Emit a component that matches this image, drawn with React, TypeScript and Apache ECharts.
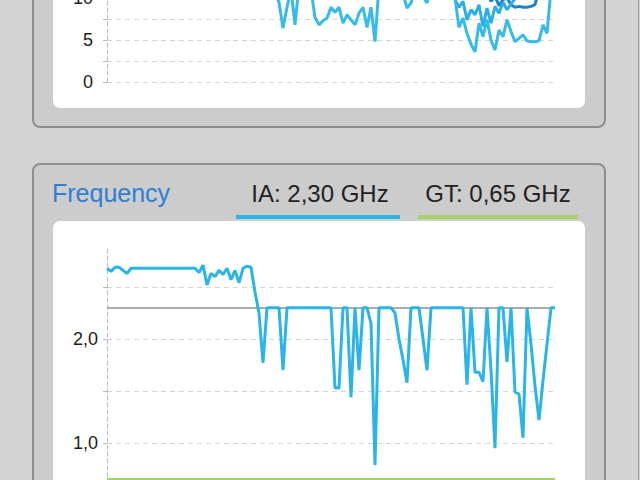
import React, { useEffect, useRef } from "react";
import * as echarts from "echarts";

// ---- data ----
const sampleCount = 113;
const sampleTimes: string[] = Array.from({ length: sampleCount }, (_, i) => String(i));

// top (partially visible) chart, values above ~10 are outside the visible page area
const topLight: number[] = [
  13.2, 13.5, 12.8, 13.9, 14.1, 13.4, 12.9, 13.6, 14.2, 13.8, 13.1, 12.7, 13.5, 14.0, 13.3, 12.9, 13.7, 14.3, 13.6, 13.0,
  12.6, 13.4, 13.9, 14.4, 13.2, 12.8, 13.5, 14.1, 13.7, 12.9, 13.3, 13.8, 14.0, 13.1, 12.7, 13.6, 14.2, 13.4, 12.9, 13.5,
  12.4, 11.8, 10.5, 9.5, 6.4, 8.9, 11.0, 6.8, 11.5, 12.0, 12.3, 11.0, 7.7, 6.8, 7.3, 7.6, 8.9, 8.3, 8.9, 7.0,
  8.0, 7.4, 6.8, 8.2, 8.9, 6.5, 8.9, 4.8, 11.5, 12.2, 12.8, 12.4, 11.9, 12.3, 10.5, 8.8, 9.4, 11.0, 11.5, 10.2,
  9.4, 11.5, 12.1, 12.6, 12.3, 11.8, 12.2, 10.0, 6.5, 7.6, 5.8, 4.5, 3.6, 7.0, 5.4, 7.4, 5.0, 3.8, 6.2, 5.4,
  7.4, 6.0, 4.8, 5.2, 5.6, 4.9, 4.8, 4.8, 4.9, 6.8, 5.8, 11.0, 12.0,
];
const topMid: number[] = [
  15.1, 15.4, 14.8, 15.9, 16.0, 15.3, 14.9, 15.6, 16.2, 15.8, 15.0, 14.7, 15.5, 16.1, 15.2, 14.9, 15.7, 16.3, 15.6, 15.0,
  14.6, 15.4, 15.9, 16.4, 15.2, 14.8, 15.5, 16.1, 15.7, 14.9, 15.3, 15.8, 16.0, 15.1, 14.7, 15.6, 16.2, 15.4, 14.9, 15.5,
  14.4, 13.8, 13.0, 12.5, 11.8, 12.4, 13.1, 12.0, 13.5, 14.0, 14.3, 13.0, 12.2, 11.9, 12.4, 12.6, 13.1, 12.8, 13.0, 12.1,
  12.6, 12.3, 11.9, 12.7, 13.1, 11.8, 12.9, 11.5, 13.5, 14.2, 14.8, 14.4, 13.9, 14.3, 13.2, 12.1, 12.6, 13.0, 13.5, 12.4,
  12.0, 13.5, 14.1, 14.6, 14.3, 13.8, 13.0, 9.8, 8.9, 9.6, 7.4, 8.6, 8.0, 9.2, 6.6, 8.8, 7.0, 9.0, 8.2, 9.5,
  8.6, 9.3, 9.9, 10.5, 11.0, 10.4, 11.0, 11.6, 12.0, 11.4, 11.8, 12.6, 13.0,
];
const topDark: number[] = [
  17.1, 17.4, 16.8, 17.9, 18.0, 17.3, 16.9, 17.6, 18.2, 17.8, 17.0, 16.7, 17.5, 18.1, 17.2, 16.9, 17.7, 18.3, 17.6, 17.0,
  16.6, 17.4, 17.9, 18.4, 17.2, 16.8, 17.5, 18.1, 17.7, 16.9, 17.3, 17.8, 18.0, 17.1, 16.7, 17.6, 18.2, 17.4, 16.9, 17.5,
  16.4, 15.8, 15.0, 14.5, 13.8, 14.4, 15.1, 14.0, 15.5, 16.0, 16.3, 15.0, 14.2, 13.9, 14.4, 14.6, 15.1, 14.8, 15.0, 14.1,
  14.6, 14.3, 13.9, 14.7, 15.1, 13.8, 14.9, 13.5, 15.5, 16.2, 16.8, 16.4, 15.9, 16.3, 15.2, 14.1, 14.6, 15.0, 15.5, 14.4,
  14.0, 15.5, 16.1, 16.6, 16.3, 15.8, 15.0, 12.4, 11.8, 12.2, 11.5, 11.9, 11.2, 11.6, 11.0, 10.8, 9.6, 10.2, 9.1, 9.8,
  10.0, 9.2, 8.9, 9.0, 8.9, 8.9, 9.0, 9.2, 11.0, 11.8, 12.4, 13.0, 13.5,
];

// Frequency chart (GHz)
const iaFrequency: number[] = [
  2.68, 2.65, 2.69, 2.69, 2.66, 2.63, 2.68,
  2.68, 2.68, 2.68, 2.68, 2.68, 2.68, 2.68, 2.68, 2.68, 2.68, 2.68, 2.68, 2.68, 2.68, 2.68,
  2.68, 2.64, 2.71, 2.52, 2.63, 2.60, 2.66, 2.62, 2.68, 2.57, 2.66, 2.54, 2.68, 2.70, 2.69, 2.45, 2.25, 1.77,
  2.30, 2.30, 2.30, 2.30,
  1.70,
  2.30, 2.30, 2.30, 2.30, 2.30, 2.30, 2.30, 2.30, 2.30, 2.30, 2.30, 2.30,
  1.53, 1.53, 2.30, 2.30, 1.44, 2.30, 1.70, 2.30, 2.30, 2.15, 0.79,
  2.30, 2.30, 2.30, 2.30,
  2.25, 2.00, 1.80, 1.58, 2.30, 2.30, 2.30, 2.00, 1.70,
  2.30, 2.30, 2.30, 2.30, 2.30, 2.30, 2.30, 2.30, 2.30,
  1.56, 2.30, 1.68, 1.68, 1.59, 2.30, 1.70, 0.95, 2.30, 2.30, 1.78, 2.30, 1.49, 1.47, 1.05, 2.30, 1.95, 1.55, 1.22, 1.60,
  1.95, 2.30, 2.30,
];
const gtFrequency: number[] = [
  0.65, 0.65, 0.65, 0.65, 0.65, 0.65, 0.65, 0.65, 0.65, 0.65, 0.65, 0.65, 0.65, 0.65, 0.65, 0.65, 0.65, 0.65, 0.65, 0.65,
  0.65, 0.65, 0.65, 0.65, 0.65, 0.65, 0.65, 0.65, 0.65, 0.65, 0.65, 0.65, 0.65, 0.65, 0.65, 0.65, 0.65, 0.65, 0.65, 0.65,
  0.65, 0.65, 0.65, 0.65, 0.65, 0.65, 0.65, 0.65, 0.65, 0.65, 0.65, 0.65, 0.65, 0.65, 0.65, 0.65, 0.65, 0.65, 0.65, 0.65,
  0.65, 0.65, 0.65, 0.65, 0.65, 0.65, 0.65, 0.65, 0.65, 0.65, 0.65, 0.65, 0.65, 0.65, 0.65, 0.65, 0.65, 0.65, 0.65, 0.65,
  0.65, 0.65, 0.65, 0.65, 0.65, 0.65, 0.65, 0.65, 0.65, 0.65, 0.65, 0.65, 0.65, 0.65, 0.65, 0.65, 0.65, 0.65, 0.65, 0.65,
  0.65, 0.65, 0.65, 0.65, 0.65, 0.65, 0.65, 0.65, 0.65, 0.65, 0.65, 0.65, 0.65,
];
const iaBaseFrequency = 2.3;

const panelTitle = "Frequency";
const iaLabel = "IA: 2,30 GHz";
const gtLabel = "GT: 0,65 GHz";

const FONT = "'Liberation Sans', Arial, Helvetica, sans-serif";
const BLUE = "#2bb4e6";
const GREEN = "#a5d167";

function commaFmt(v: number): string {
  return v.toFixed(1).replace(".", ",");
}

export default function App() {
  const ref = useRef<HTMLDivElement>(null);
  useEffect(() => {
    if (!ref.current) return;
    const chart = echarts.init(ref.current, null, { renderer: "svg" });
    const axisLineStyle = { color: "#b9b9b9", type: [4, 3], width: 1 };
    const splitStyle = { color: "#d6d6d6", type: [5, 4], width: 1 };
    const option: any = {
      animation: false,
      backgroundColor: "#d3d3d3",
      graphic: {
        elements: [
          { type: "rect", z: -10, shape: { x: 33, y: -20, width: 572, height: 147, r: 7 }, style: { fill: "#cccccc", stroke: "#8e8e8e", lineWidth: 2 } },
          { type: "rect", z: -9, shape: { x: 53, y: -20, width: 532, height: 128, r: 7 }, style: { fill: "#ffffff" } },
          { type: "rect", z: -10, shape: { x: 33, y: 164, width: 572, height: 400, r: 7 }, style: { fill: "#cccccc", stroke: "#8e8e8e", lineWidth: 2 } },
          { type: "rect", z: -9, shape: { x: 53, y: 221, width: 532, height: 300, r: 7 }, style: { fill: "#ffffff" } },
          { type: "rect", z: -8, shape: { x: 236, y: 215, width: 164, height: 4 }, style: { fill: BLUE } },
          { type: "rect", z: -8, shape: { x: 418, y: 215, width: 160, height: 4 }, style: { fill: GREEN } },
          { type: "line", z: -8, shape: { x1: 638.5, y1: 0, x2: 638.5, y2: 480 }, style: { stroke: "#999999", lineWidth: 1 } },
          {
            type: "text", x: 52, y: 193,
            style: { text: panelTitle, fill: "#2f7fd6", fontSize: 25, fontFamily: FONT, align: "left", verticalAlign: "middle", textAlign: "left", textVerticalAlign: "middle" },
          },
          {
            type: "text", x: 320, y: 193,
            style: { text: iaLabel, fill: "#222222", fontSize: 24, fontFamily: FONT, align: "center", verticalAlign: "middle", textAlign: "center", textVerticalAlign: "middle" },
          },
          {
            type: "text", x: 498, y: 193,
            style: { text: gtLabel, fill: "#222222", fontSize: 24, fontFamily: FONT, align: "center", verticalAlign: "middle", textAlign: "center", textVerticalAlign: "middle" },
          },
        ],
      },
      grid: [
        { left: 107, right: 85, top: -86, height: 168, containLabel: false, outerBoundsMode: "none" },
        { left: 107, right: 85, top: 248, height: 299, containLabel: false, outerBoundsMode: "none" },
      ],
      xAxis: [
        { type: "category", gridIndex: 0, data: sampleTimes, boundaryGap: false, show: false },
        { type: "category", gridIndex: 1, data: sampleTimes, boundaryGap: false, show: false },
      ],
      yAxis: [
        {
          type: "value", gridIndex: 0, min: 0, max: 20, interval: 2.5, z: 1,
          axisLine: { show: true, lineStyle: axisLineStyle },
          axisTick: { show: true, length: 4, lineStyle: { color: "#b9b9b9" } },
          splitLine: { show: true, lineStyle: splitStyle },
          axisLabel: {
            margin: 14, fontSize: 18, color: "#1c1c1c", fontFamily: FONT,
            formatter: (v: number) => (v % 5 === 0 && v <= 10 ? String(v) : ""),
          },
        },
        {
          type: "value", gridIndex: 1, min: 0, max: 2.875, interval: 0.5, z: 1,
          axisLine: { show: true, lineStyle: axisLineStyle },
          axisTick: { show: true, length: 4, lineStyle: { color: "#b9b9b9" } },
          splitLine: { show: true, showMaxLine: false, lineStyle: splitStyle },
          axisLabel: {
            margin: 9, fontSize: 18, color: "#1c1c1c", fontFamily: FONT, showMaxLabel: false,
            formatter: (v: number) => (v >= 1 && Math.abs(v - Math.round(v)) < 1e-9 ? commaFmt(v) : ""),
          },
        },
      ],
      series: [
        {
          name: "top-dark", type: "line", xAxisIndex: 0, yAxisIndex: 0, data: topDark, symbol: "none", z: 3,
          lineStyle: { color: "#1f82c9", width: 3 }, itemStyle: { color: "#1f82c9" },
        },
        {
          name: "top-mid", type: "line", xAxisIndex: 0, yAxisIndex: 0, data: topMid, symbol: "none", z: 4,
          lineStyle: { color: "#2aaee3", width: 3 }, itemStyle: { color: "#2aaee3" },
        },
        {
          name: "top-light", type: "line", xAxisIndex: 0, yAxisIndex: 0, data: topLight, symbol: "none", z: 5,
          lineStyle: { color: "#36bbe9", width: 3 }, itemStyle: { color: "#36bbe9" },
        },
        {
          name: "GT", type: "line", xAxisIndex: 1, yAxisIndex: 1, data: gtFrequency, symbol: "none", z: 3,
          lineStyle: { color: GREEN, width: 3 }, itemStyle: { color: GREEN },
          markLine: {
            silent: true, symbol: "none", label: { show: false },
            lineStyle: { color: "#8f8f8f", width: 1.5, type: "solid" },
            data: [{ yAxis: iaBaseFrequency }],
          },
        },
        {
          name: "IA", type: "line", xAxisIndex: 1, yAxisIndex: 1, data: iaFrequency, symbol: "none", z: 5,
          lineStyle: { color: BLUE, width: 3 }, itemStyle: { color: BLUE },
        },
      ],
    };
    chart.setOption(option);
    return () => chart.dispose();
  }, []);
  return <div ref={ref} style={{ position: "fixed", left: 0, top: 0, width: 640, height: 480 }} />;
}
